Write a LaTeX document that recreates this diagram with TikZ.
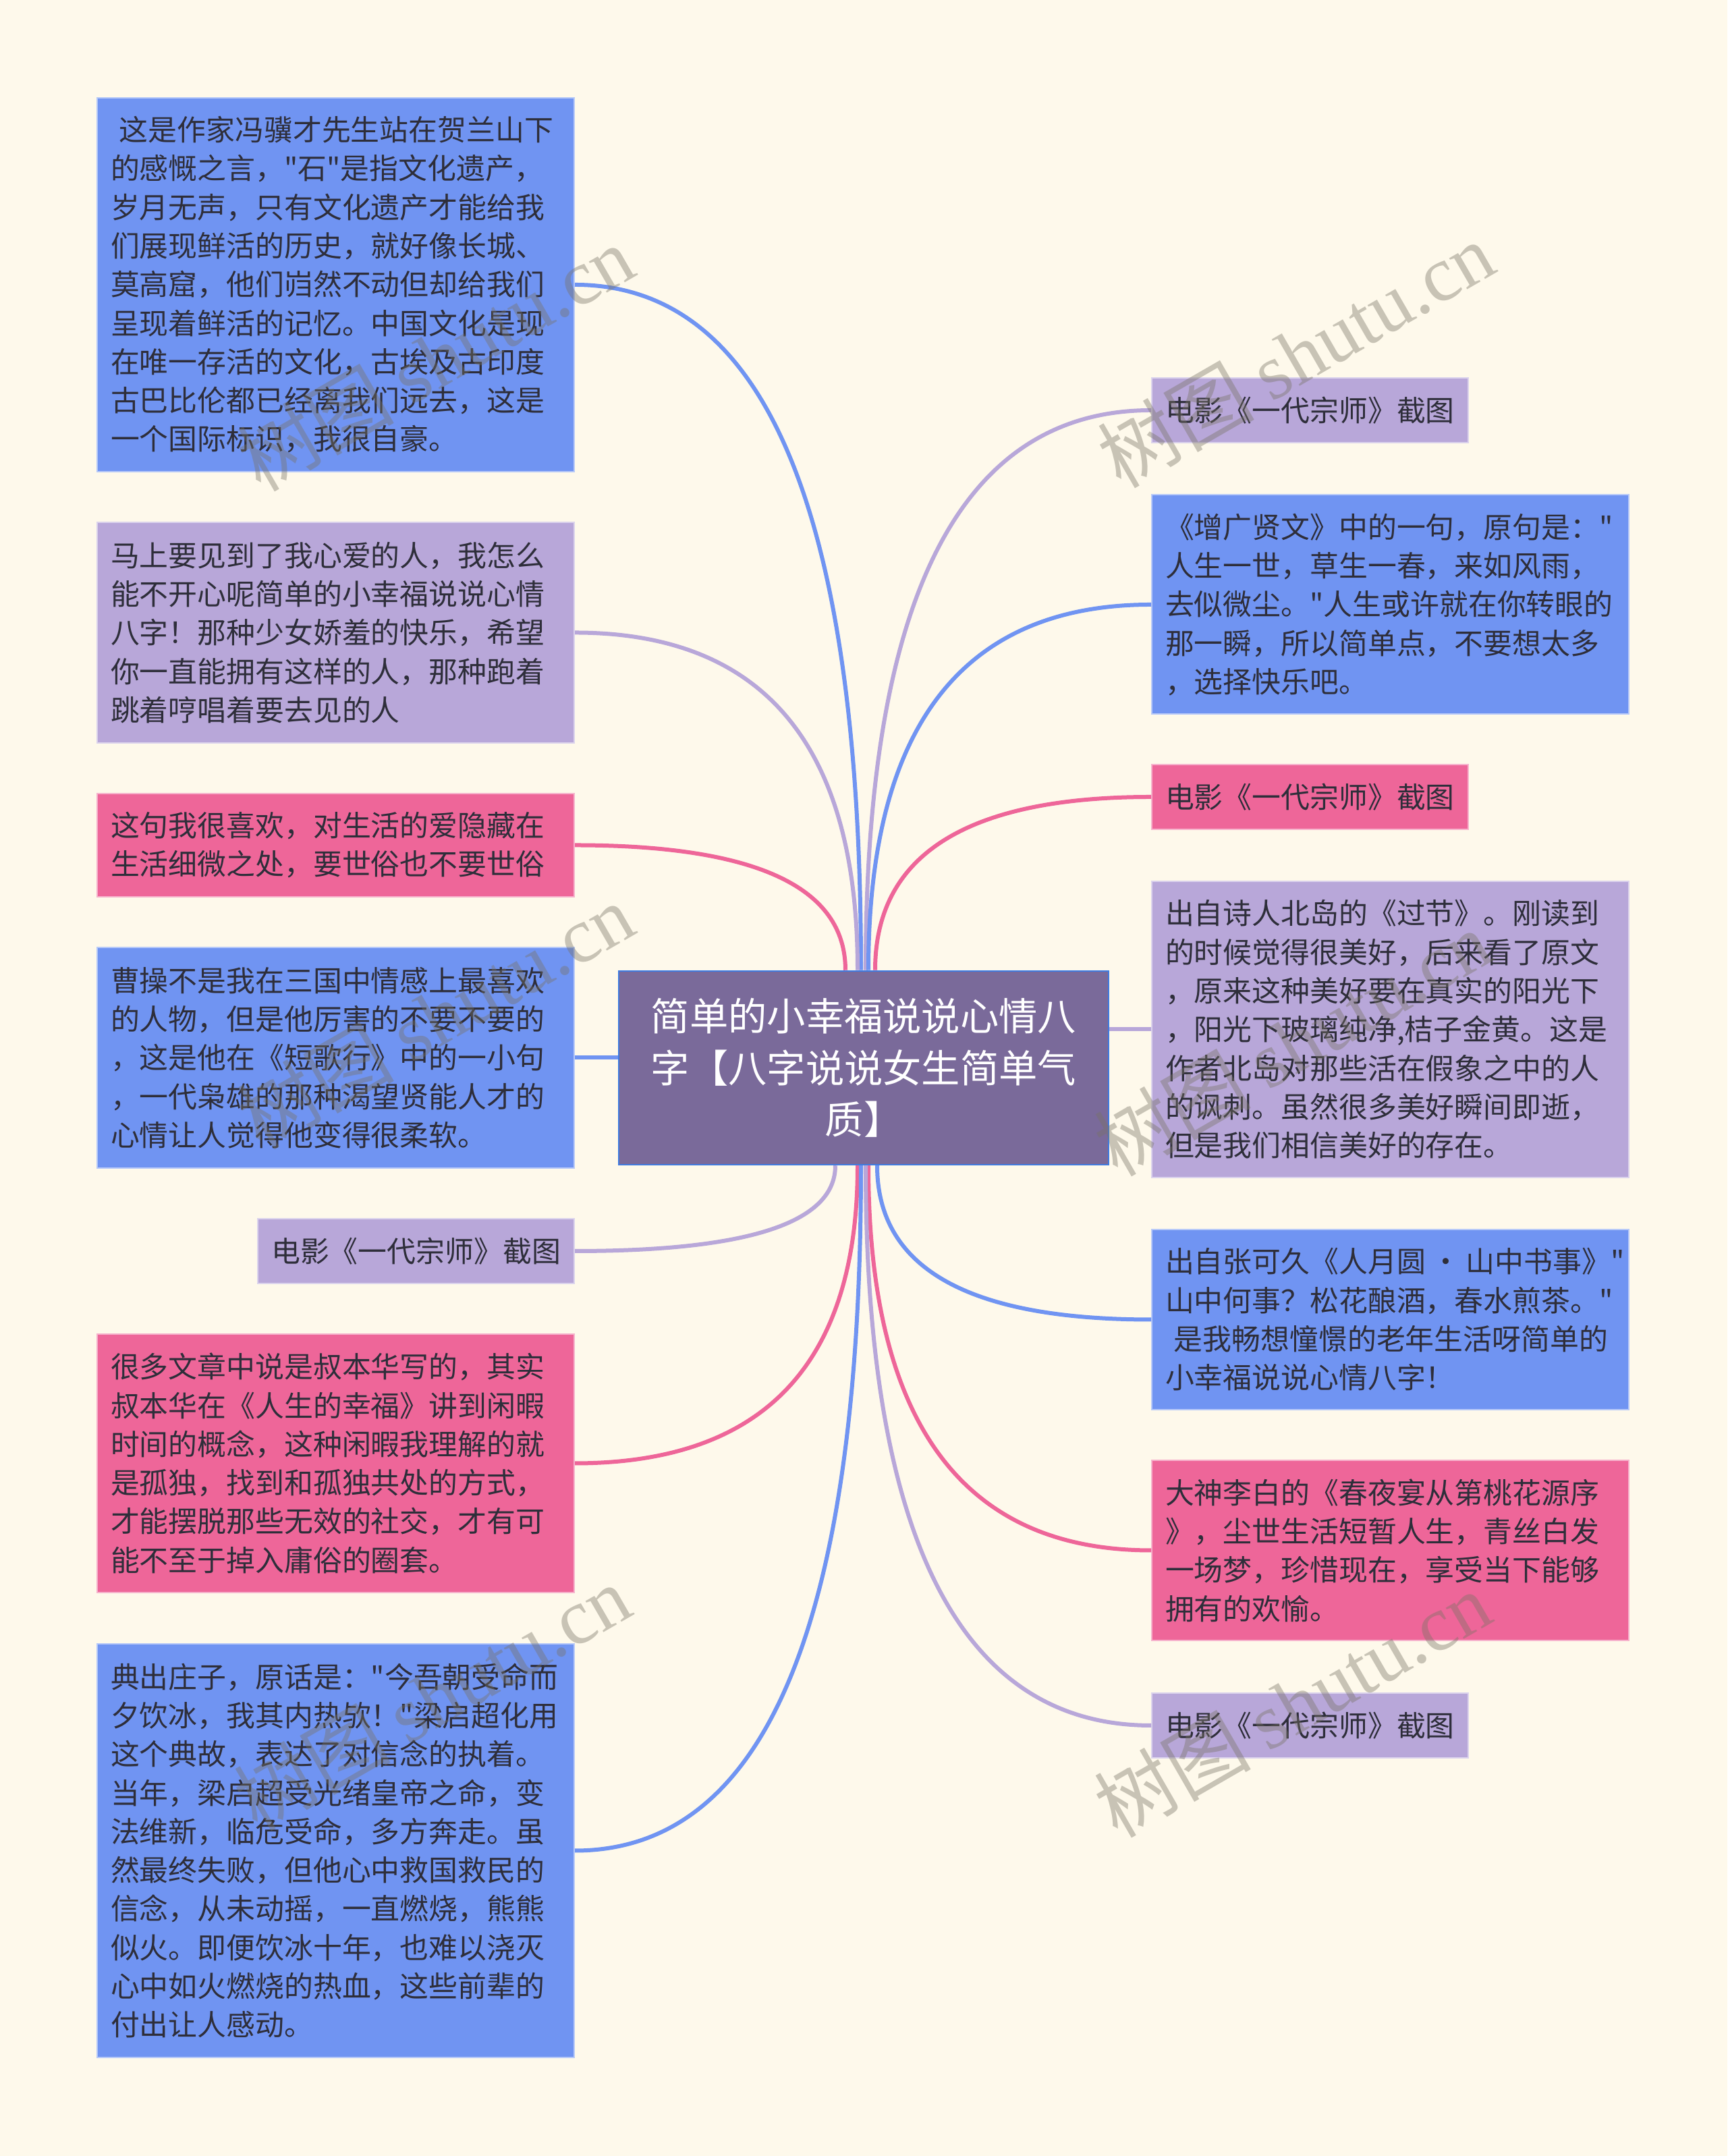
\documentclass[tikz,border=0pt]{standalone}
\usepackage{fontspec}
\usetikzlibrary{calc}
\setmainfont{Noto Sans CJK SC}
\newfontfamily\cjkfont{Noto Sans CJK SC}
\newfontfamily\wmserif{Liberation Serif}
\definecolor{bgcream}{HTML}{FEF9EB}
\definecolor{nodeblue}{HTML}{7094F2}
\definecolor{nodepurple}{HTML}{B8A7D9}
\definecolor{nodepink}{HTML}{EE6699}
\definecolor{rootfill}{HTML}{7A6A9A}
\definecolor{rootedge}{HTML}{3F7BE0}
\definecolor{inkdark}{HTML}{2E2E3A}
\definecolor{wmgray}{HTML}{787364}
\begin{document}
\begin{tikzpicture}[
  box/.style={rectangle, draw=#1!50!white, line width=0.02cm, fill=#1, text=inkdark,
    inner xsep=0.2cm, inner ysep=0pt, align=left, font=\cjkfont\fontsize{12.2}{16.3}\selectfont},
  wide/.style={text width=6.67cm},
  link/.style={line width=0.06cm, #1},
  wmark/.style={text=wmgray, text opacity=0.4, rotate=30, font=\cjkfont\fontsize{33}{33}\selectfont}
]
  \useasboundingbox (0,0) rectangle (25.6,31.95);
  \fill[bgcream] (0,0) rectangle (25.6,31.95);
  \node[rectangle, draw=rootedge, line width=0.025cm, fill=rootfill, text=white, minimum width=7.26cm,
    minimum height=2.87cm, text width=6.5cm, align=center, font=\cjkfont\fontsize{16.3}{21.8}\selectfont]
    (root) at (12.8,16.125) {简单的小幸福说说心情八\\字【八字说说女生简单气\\质】};

  \node[box=nodeblue, wide, minimum height=5.54cm, anchor=east] (la) at (8.52,27.73)
    {\hspace*{0.3em}这是作家冯骥才先生站在贺兰山下\\的感慨之言，"石"是指文化遗产，\\岁月无声，只有文化遗产才能给我\\们展现鲜活的历史，就好像长城、\\莫高窟，他们岿然不动但却给我们\\呈现着鲜活的记忆。中国文化是现\\在唯一存活的文化，古埃及古印度\\古巴比伦都已经离我们远去，这是\\一个国际标识，我很自豪。};
  \node[box=nodepurple, wide, minimum height=3.27cm, anchor=east] (lb) at (8.52,22.575)
    {马上要见到了我心爱的人，我怎么\\能不开心呢简单的小幸福说说心情\\八字！那种少女娇羞的快乐，希望\\你一直能拥有这样的人，那种跑着\\跳着哼唱着要去见的人};
  \node[box=nodepink, wide, minimum height=1.53cm, anchor=east] (lc) at (8.52,19.425)
    {这句我很喜欢，对生活的爱隐藏在\\生活细微之处，要世俗也不要世俗};
  \node[box=nodeblue, wide, minimum height=3.27cm, anchor=east] (ld) at (8.52,16.275)
    {曹操不是我在三国中情感上最喜欢\\的人物，但是他厉害的不要不要的\\，这是他在《短歌行》中的一小句\\，一代枭雄的那种渴望贤能人才的\\心情让人觉得他变得很柔软。};
  \node[box=nodepurple, minimum height=0.96cm, anchor=east] (le) at (8.52,13.41) {电影《一代宗师》截图};
  \node[box=nodepink, wide, minimum height=3.83cm, anchor=east] (lf) at (8.52,10.265)
    {很多文章中说是叔本华写的，其实\\叔本华在《人生的幸福》讲到闲暇\\时间的概念，这种闲暇我理解的就\\是孤独，找到和孤独共处的方式，\\才能摆脱那些无效的社交，才有可\\能不至于掉入庸俗的圈套。};
  \node[box=nodeblue, wide, minimum height=6.13cm, anchor=east] (lg) at (8.52,4.525)
    {典出庄子，原话是："今吾朝受命而\\夕饮冰，我其内热欤！"梁启超化用\\这个典故，表达了对信念的执着。\\当年，梁启超受光绪皇帝之命，变\\法维新，临危受命，多方奔走。虽\\然最终失败，但他心中救国救民的\\信念，从未动摇，一直燃烧，熊熊\\似火。即便饮冰十年，也难以浇灭\\心中如火燃烧的热血，这些前辈的\\付出让人感动。};

  \node[box=nodepurple, minimum height=0.96cm, anchor=west] (ra) at (17.06,25.87) {电影《一代宗师》截图};
  \node[box=nodeblue, wide, minimum height=3.25cm, anchor=west] (rb) at (17.06,22.99)
    {《增广贤文》中的一句，原句是："\\人生一世，草生一春，来如风雨，\\去似微尘。"人生或许就在你转眼的\\那一瞬，所以简单点，不要想太多\\，选择快乐吧。};
  \node[box=nodepink, minimum height=0.96cm, anchor=west] (rc) at (17.06,20.14) {电影《一代宗师》截图};
  \node[box=nodepurple, wide, minimum height=4.39cm, anchor=west] (rd) at (17.06,16.695)
    {出自诗人北岛的《过节》。刚读到\\的时候觉得很美好，后来看了原文\\，原来这种美好要在真实的阳光下\\，阳光下玻璃纯净,桔子金黄。这是\\作者北岛对那些活在假象之中的人\\的讽刺。虽然很多美好瞬间即逝，\\但是我们相信美好的存在。};
  \node[box=nodeblue, wide, minimum height=2.67cm, anchor=west] (re) at (17.06,12.395)
    {出自张可久《人月圆\kern0.2em·\kern0.2em山中书事》"\\山中何事？松花酿酒，春水煎茶。"\\\hspace*{0.3em}是我畅想憧憬的老年生活呀简单的\\小幸福说说心情八字！};
  \node[box=nodepink, wide, minimum height=2.67cm, anchor=west] (rf) at (17.06,8.975)
    {大神李白的《春夜宴从第桃花源序\\》，尘世生活短暂人生，青丝白发\\一场梦，珍惜现在，享受当下能够\\拥有的欢愉。};
  \node[box=nodepurple, minimum height=0.96cm, anchor=west] (rg) at (17.06,6.38) {电影《一代宗师》截图};

  \foreach \nd/\dx/\col/\sd/\an in {la/-0.04/nodeblue/north/east, lb/-0.09/nodepurple/north/east,
      lc/-0.27/nodepink/north/east, le/-0.42/nodepurple/south/east, lf/-0.09/nodepink/south/east,
      lg/-0.04/nodeblue/south/east, ra/0.03/nodepurple/north/west, rb/0.07/nodeblue/north/west,
      rc/0.17/nodepink/north/west, re/0.2/nodeblue/south/west, rf/0.07/nodepink/south/west,
      rg/0.03/nodepurple/south/west}
  {
    \coordinate (s\nd) at ([xshift=\dx cm]root.\sd);
    \coordinate (k\nd) at (s\nd |- \nd.\an);
    \draw[link=\col] (s\nd) .. controls ($(s\nd)!0.667!(k\nd)$) and ($(\nd.\an)!0.667!(k\nd)$) .. (\nd.\an);
  }
  \draw[link=nodeblue] (ld.east) -- (ld.east -| root.west);
  \draw[link=nodepurple] (rd.west) -- (rd.west -| root.east);

  \foreach \wx/\wy [count=\wi] in {6.45/26.65, 19.2/26.7, 6.45/16.9, 19.15/16.5, 6.4/6.8, 19.15/6.7}
    \node[wmark] (wm\wi) at (\wx,\wy) {树图 {\wmserif shutu.cn}};
\end{tikzpicture}
\end{document}
